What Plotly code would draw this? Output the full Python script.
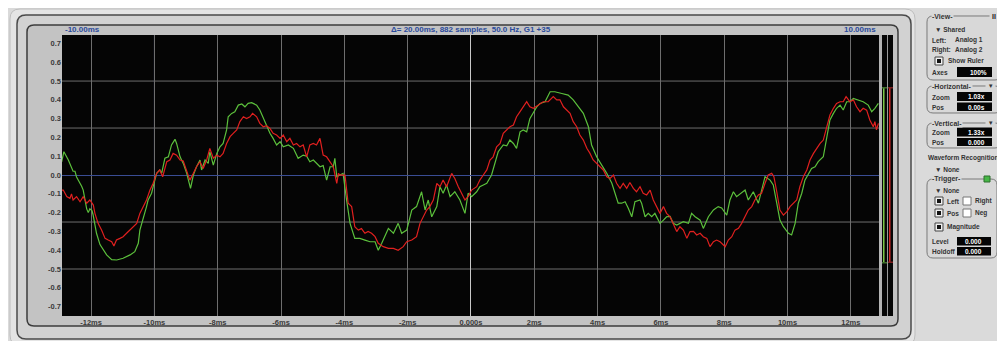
import plotly.graph_objects as go

# the page body keeps its 8px margin, so the figure is 8px smaller than the window
W, H = 997, 333
OFF = 8

# ---- data (time in ms, amplitude) ----
green_t = [-12.93, -12.86, -12.72, -12.57, -12.51, -12.46, -12.30, -12.25, -12.14, -12.09, -12.04, -11.97,
           -11.94, -11.83, -11.72, -11.62, -11.51, -11.35, -11.19, -10.99, -10.77, -10.62, -10.51, -10.46,
           -10.40, -10.35, -10.30, -10.25, -10.20, -10.09, -10.04, -9.98, -9.93, -9.83, -9.77, -9.67,
           -9.56, -9.46, -9.35, -9.30, -9.19, -9.09, -8.98, -8.86, -8.77, -8.67, -8.56, -8.51, -8.40,
           -8.30, -8.25, -8.14, -8.03, -7.93, -7.83, -7.72, -7.67, -7.56, -7.46, -7.35, -7.24, -7.14,
           -7.04, -6.93, -6.77, -6.67, -6.56, -6.46, -6.35, -6.25, -6.14, -6.03, -5.93, -5.77, -5.61,
           -5.46, -5.30, -5.19, -5.09, -4.98, -4.88, -4.77, -4.67, -4.56, -4.45, -4.35, -4.30, -4.24,
           -4.14, -4.04, -3.93, -3.82, -3.67, -3.51, -3.35, -3.19, -3.03, -2.93, -2.82, -2.61, -2.45,
           -2.30, -2.19, -2.03, -1.87, -1.72, -1.56, -1.45, -1.35, -1.24, -1.08, -0.98, -0.88, -0.77,
           -0.66, -0.51, -0.35, -0.19, -0.09, 0.02, 0.18, 0.28, 0.39, 0.50, 0.65, 0.76, 0.86, 1.02,
           1.13, 1.23, 1.34, 1.44, 1.55, 1.65, 1.76, 1.86, 1.97, 2.08, 2.18, 2.34, 2.50, 2.65, 2.87,
           3.07, 3.23, 3.39, 3.55, 3.71, 3.81, 3.97, 4.13, 4.29, 4.45, 4.55, 4.65, 4.76, 4.87, 4.97,
           5.08, 5.18, 5.34, 5.39, 5.50, 5.60, 5.71, 5.81, 5.97, 6.08, 6.18, 6.29, 6.39, 6.50, 6.60,
           6.71, 6.87, 6.97, 7.08, 7.24, 7.34, 7.50, 7.66, 7.81, 7.92, 8.08, 8.18, 8.29, 8.39, 8.55,
           8.66, 8.76, 8.92, 9.08, 9.18, 9.29, 9.45, 9.55, 9.66, 9.76, 9.87, 10.03, 10.13, 10.24,
           10.34, 10.45, 10.55, 10.66, 10.76, 10.87, 10.97, 11.13, 11.24, 11.34, 11.45, 11.55, 11.66,
           11.76, 11.87, 11.97, 12.08, 12.24, 12.39, 12.55, 12.66, 12.76, 12.87]
green_v = [0.07, 0.124, 0.08, 0.02, 0.02, -0.01, -0.06, -0.08, -0.18, -0.20, -0.18, -0.19,
           -0.21, -0.31, -0.37, -0.40, -0.425, -0.45, -0.452, -0.443, -0.425, -0.408, -0.363, -0.293,
           -0.257, -0.24, -0.204, -0.168, -0.133, -0.097, -0.062, -0.027, 0.009, 0.027, 0.01, 0.089,
           0.097, 0.16, 0.19, 0.168, 0.097, 0.062, 0.009, -0.071, 0.0, 0.044, 0.08, 0.027, 0.08,
           0.062, 0.124, 0.053, 0.115, 0.15, 0.168, 0.24, 0.31, 0.328, 0.337, 0.372, 0.378, 0.363,
           0.381, 0.385, 0.372, 0.346, 0.30, 0.266, 0.222, 0.195, 0.16, 0.177, 0.15, 0.16, 0.142,
           0.089, 0.106, 0.10, 0.071, 0.08, 0.062, 0.044, 0.05, -0.027, 0.044, 0.044, 0.089, -0.009,
           0.0, 0.009, -0.133, -0.257, -0.337, -0.337, -0.346, -0.355, -0.355, -0.40, -0.363, -0.284, -0.31,
           -0.257, -0.31, -0.293, -0.186, -0.168, -0.089, -0.186, -0.133, -0.222, -0.168, -0.062, -0.097, -0.053,
           -0.115, -0.089, -0.133, -0.204, -0.097, -0.115, -0.089, -0.062, -0.053, -0.044, 0.0, 0.062, 0.124, 0.16,
           0.155, 0.186, 0.168, 0.142, 0.23, 0.24, 0.23, 0.30, 0.328, 0.363, 0.381, 0.39, 0.443, 0.443, 0.434,
           0.425, 0.40, 0.363, 0.328, 0.257, 0.16, 0.097, 0.053, 0.009, -0.044, -0.097, -0.15, -0.15, -0.142, -0.177,
           -0.222, -0.142, -0.133, -0.15, -0.222, -0.204, -0.222, -0.204, -0.257, -0.24, -0.222, -0.22, -0.257, -0.266, -0.257,
           -0.248, -0.257, -0.204, -0.222, -0.24, -0.284, -0.222, -0.186, -0.168, -0.175, -0.213, -0.133, -0.089, -0.115, -0.097,
           -0.08, -0.133, -0.089, -0.15, -0.089, -0.009, -0.027, -0.053, -0.15, -0.24, -0.275, -0.31, -0.319, -0.257,
           -0.15, -0.097, -0.027, 0.009, 0.035, 0.044, 0.071, 0.097, 0.204, 0.293, 0.328, 0.355, 0.372,
           0.346, 0.39, 0.39, 0.408, 0.40, 0.39, 0.372, 0.337, 0.355, 0.381]

red_t = [-12.93, -12.88, -12.77, -12.67, -12.62, -12.57, -12.46, -12.35, -12.25, -12.14, -12.04, -11.93,
         -11.88, -11.78, -11.67, -11.56, -11.46, -11.35, -11.28, -11.20, -11.09, -10.99, -10.88, -10.77,
         -10.67, -10.56, -10.46, -10.35, -10.25, -10.14, -10.04, -9.93, -9.83, -9.74, -9.61, -9.51,
         -9.41, -9.30, -9.19, -9.09, -8.98, -8.88, -8.77, -8.67, -8.56, -8.46, -8.35, -8.25, -8.14,
         -8.03, -7.93, -7.83, -7.72, -7.61, -7.51, -7.40, -7.30, -7.19, -7.09, -6.98, -6.90, -6.77,
         -6.67, -6.56, -6.46, -6.35, -6.25, -6.14, -6.03, -5.93, -5.82, -5.72, -5.61, -5.51, -5.40,
         -5.30, -5.19, -5.09, -4.98, -4.88, -4.77, -4.67, -4.56, -4.45, -4.35, -4.24, -4.19, -4.14,
         -4.04, -3.98, -3.88, -3.77, -3.67, -3.56, -3.46, -3.35, -3.25, -3.14, -3.03, -2.93, -2.77,
         -2.61, -2.45, -2.30, -2.14, -2.03, -1.87, -1.72, -1.61, -1.51, -1.40, -1.30, -1.19, -1.08,
         -0.98, -0.88, -0.77, -0.61, -0.51, -0.40, -0.29, -0.19, -0.09, 0.02, 0.18, 0.28, 0.39, 0.50,
         0.60, 0.70, 0.81, 0.92, 1.02, 1.13, 1.23, 1.34, 1.44, 1.55, 1.65, 1.76, 1.86, 1.97, 2.13,
         2.28, 2.44, 2.60, 2.71, 2.81, 2.92, 3.02, 3.13, 3.23, 3.34, 3.44, 3.55, 3.66, 3.76, 3.86,
         3.97, 4.08, 4.18, 4.29, 4.39, 4.50, 4.60, 4.71, 4.81, 4.92, 5.02, 5.13, 5.23, 5.34, 5.44,
         5.55, 5.66, 5.76, 5.87, 5.97, 6.08, 6.18, 6.29, 6.39, 6.50, 6.60, 6.71, 6.82, 6.92, 7.03,
         7.13, 7.24, 7.34, 7.45, 7.55, 7.66, 7.76, 7.87, 8.03, 8.13, 8.24, 8.34, 8.45, 8.55, 8.66,
         8.76, 8.87, 8.97, 9.08, 9.18, 9.29, 9.39, 9.50, 9.57, 9.66, 9.76, 9.87, 9.98, 10.08, 10.18,
         10.29, 10.39, 10.50, 10.61, 10.71, 10.82, 10.92, 11.03, 11.13, 11.24, 11.34, 11.45, 11.55,
         11.66, 11.76, 11.85, 11.97, 12.08, 12.18, 12.29, 12.39, 12.50, 12.60, 12.71, 12.76, 12.81, 12.87]
red_v = [-0.08, -0.08, -0.115, -0.124, -0.10, -0.133, -0.115, -0.142, -0.115, -0.15, -0.133, -0.16,
         -0.204, -0.257, -0.293, -0.337, -0.346, -0.355, -0.378, -0.346, -0.337, -0.328, -0.31, -0.293,
         -0.275, -0.257, -0.204, -0.168, -0.133, -0.08, -0.044, 0.009, 0.027, -0.009, 0.071, 0.08,
         0.115, 0.106, 0.08, 0.075, 0.027, -0.027, 0.009, 0.044, 0.071, 0.035, 0.08, 0.142, 0.089,
         0.106, 0.097, 0.115, 0.168, 0.204, 0.222, 0.24, 0.284, 0.31, 0.30, 0.31, 0.328, 0.31,
         0.275, 0.257, 0.262, 0.248, 0.222, 0.213, 0.195, 0.213, 0.177, 0.195, 0.16, 0.168, 0.15,
         0.16, 0.097, 0.16, 0.168, 0.16, 0.195, 0.106, 0.097, 0.071, 0.044, -0.044, 0.009, 0.0,
         0.0, 0.0, -0.15, -0.168, -0.275, -0.293, -0.285, -0.31, -0.30, -0.31, -0.328, -0.363, -0.381,
         -0.39, -0.39, -0.40, -0.381, -0.355, -0.346, -0.328, -0.257, -0.222, -0.186, -0.168, -0.133, -0.044,
         -0.062, -0.027, -0.062, 0.009, -0.018, -0.062, -0.097, -0.133, -0.115, -0.08, -0.062, -0.027, 0.0, 0.027,
         0.08, 0.097, 0.15, 0.168, 0.222, 0.24, 0.257, 0.266, 0.31, 0.337, 0.363, 0.39, 0.363, 0.355, 0.372,
         0.39, 0.39, 0.417, 0.40, 0.40, 0.363, 0.346, 0.328, 0.284, 0.257, 0.213, 0.186, 0.142, 0.115, 0.08,
         0.062, 0.044, 0.027, -0.009, -0.018, 0.0, -0.044, -0.071, -0.044, -0.071, -0.04, -0.071, -0.089, -0.062, -0.097,
         -0.106, -0.08, -0.133, -0.168, -0.204, -0.168, -0.204, -0.222, -0.257, -0.301, -0.275, -0.293, -0.337, -0.301, -0.30,
         -0.319, -0.31, -0.328, -0.337, -0.381, -0.355, -0.346, -0.355, -0.381, -0.346, -0.328, -0.293, -0.284, -0.257, -0.222,
         -0.186, -0.168, -0.133, -0.106, -0.097, -0.044, 0.0, 0.009, -0.009, -0.089, -0.186, -0.213, -0.195, -0.168, -0.15,
         -0.133, -0.062, -0.009, 0.027, 0.08, 0.115, 0.142, 0.168, 0.186, 0.257, 0.319, 0.355, 0.381,
         0.39, 0.39, 0.417, 0.39, 0.40, 0.363, 0.337, 0.355, 0.345, 0.293, 0.257, 0.284, 0.24, 0.275]

x_ticks = [-12, -10, -8, -6, -4, -2, 0, 2, 4, 6, 8, 10, 12]
x_labels = ['-12ms', '-10ms', '-8ms', '-6ms', '-4ms', '-2ms', '0.000s', '2ms', '4ms', '6ms', '8ms', '10ms', '12ms']
y_ticks = [0.7, 0.6, 0.5, 0.4, 0.3, 0.2, 0.1, 0.0, -0.1, -0.2, -0.3, -0.4, -0.5, -0.6, -0.7]
y_labels = ['%.1f' % v for v in y_ticks]
grid_levels = [-0.5, -0.25, 0.25, 0.5]
ruler_marks = [-10, 10]

FONT = 'Liberation Sans, Arial, sans-serif'
PANEL = '#d8d8d8'

# layout helpers take window pixels and turn them into paper fractions
def fx(x):
    return (x - OFF) / W

def fy(y):
    return 1 - (y - OFF) / H

shapes = []
annots = []

def rect(x0, y0, x1, y1, fill, line=None, lw=0, layer='below'):
    shapes.append(dict(type='rect', xref='paper', yref='paper', x0=fx(x0), x1=fx(x1), y0=fy(y1), y1=fy(y0),
                       fillcolor=fill, line=dict(color=line or fill, width=lw), layer=layer))

def rrect(x0, y0, x1, y1, r, fill, line, lw=1, layer='below'):
    p = 'M %f %f L %f %f Q %f %f %f %f L %f %f Q %f %f %f %f L %f %f Q %f %f %f %f L %f %f Q %f %f %f %f Z' % (
        fx(x0 + r), fy(y0), fx(x1 - r), fy(y0), fx(x1), fy(y0), fx(x1), fy(y0 + r),
        fx(x1), fy(y1 - r), fx(x1), fy(y1), fx(x1 - r), fy(y1),
        fx(x0 + r), fy(y1), fx(x0), fy(y1), fx(x0), fy(y1 - r),
        fx(x0), fy(y0 + r), fx(x0), fy(y0), fx(x0 + r), fy(y0))
    shapes.append(dict(type='path', xref='paper', yref='paper', path=p, fillcolor=fill,
                       line=dict(color=line, width=lw), layer=layer))

def text(x, y, s, size=7, color='#333333', anchor='left', bg=None, bold=True):
    if bold:
        s = '<b>' + s + '</b>'
    a = dict(x=fx(x), y=fy(y), xref='paper', yref='paper', text=s, showarrow=False,
             xanchor=anchor, yanchor='middle', font=dict(family=FONT, size=size, color=color))
    if bg:
        a['bgcolor'] = bg
        a['borderpad'] = 0
    annots.append(a)

# bevelled frames
rrect(10, 9, 915, 345, 10, '#e4e4e4', '#bdbdbd', 1)
rrect(17, 15, 911, 339, 9, '#d2d2d2', '#4a4a4a', 1.5)
rrect(27, 25, 898, 326, 7, '#c3c3c3', '#3c3c3c', 1.5)
# black scope area
rect(62, 35, 879, 316, '#050505')

# level meters at the right of the scope
rect(879, 35, 882, 316, '#b4b4b4')
rect(882, 35, 887, 316, '#060606')
rect(887, 35, 888, 316, '#9a9a9a')
rect(888, 35, 893, 316, '#060606')
rect(883, 88, 884.5, 262, '#7cc84a')
rect(889, 88, 890.5, 262, '#d42424')
rect(882, 87, 887, 88.5, '#3e6e2c')
rect(882, 262, 887, 263.5, '#3e6e2c')
rect(888, 87, 893, 88.5, '#7a2020')
rect(888, 261.5, 893, 263, '#7a2020')

# grid lines of the scope
for g in grid_levels:
    shapes.append(dict(type='line', xref='paper', yref='y', x0=fx(62), x1=fx(879), y0=g, y1=g,
                       line=dict(color='#6e6e6e', width=1), layer='below'))
for m in ruler_marks:
    shapes.append(dict(type='line', xref='x', yref='paper', x0=m, x1=m, y0=fy(316), y1=fy(35),
                       line=dict(color='#4f64a8', width=1), layer='below'))

fig = go.Figure()
fig.add_trace(go.Scatter(x=green_t, y=green_v, mode='lines', line=dict(color='#5cc03c', width=1.2),
                         name='Analog 1', hoverinfo='skip'))
fig.add_trace(go.Scatter(x=red_t, y=red_v, mode='lines', line=dict(color='#e0201f', width=1.2),
                         name='Analog 2', hoverinfo='skip'))

# top information bar
text(63, 30, '-10.00ms', 8, '#2a4a9c')
text(471, 30, 'Δ= 20.00ms, 882 samples, 50.0 Hz, G1 +35', 8, '#2a4a9c', 'center')
text(878, 30, '10.00ms', 8, '#2a4a9c', 'right')

# right control panel
rrect(927, 16, 1001, 80, 6, PANEL, '#7a7a7a', 1)
text(931, 16, '-View-', 7, '#333', bg=PANEL)
text(989, 16, ' II ', 7, '#222', bg=PANEL)
text(933, 29, '▼ Shared', 6.5)
text(930, 40, 'Left:', 6.5)
text(953, 40, 'Analog 1', 6.5)
text(930, 50, 'Right:', 6.5)
text(953, 50, 'Analog 2', 6.5)
rect(935, 57, 943, 65, '#f0f0f0', '#444', 1)
rect(937, 59, 941, 63, '#111111')
text(946, 61, 'Show Ruler', 6.5)
text(930, 72, 'Axes', 6.5)
rect(957, 67, 992, 77, '#050505')
text(989, 72, '100%', 6.5, '#ffffff', 'right')

rrect(927, 86, 1001, 113, 6, PANEL, '#7a7a7a', 1)
text(931, 86, '-Horizontal-', 7, '#333', bg=PANEL)
text(985, 86, ' ▼ ', 6, '#333', bg=PANEL)
text(930, 97, 'Zoom', 6.5)
rect(957, 92, 992, 101, '#050505')
text(987, 96.5, '1.03x', 6.5, '#ffffff', 'right')
text(930, 107, 'Pos', 6.5)
rect(957, 102.5, 992, 111, '#050505')
text(987, 107, '0.00s', 6.5, '#ffffff', 'right')

rrect(927, 123, 1001, 148, 6, PANEL, '#7a7a7a', 1)
text(931, 123, '-Vertical-', 7, '#333', bg=PANEL)
text(985, 123, ' ▼ ', 6, '#333', bg=PANEL)
text(930, 132, 'Zoom', 6.5)
rect(957, 127.5, 992, 136.5, '#050505')
text(987, 132, '1.33x', 6.5, '#ffffff', 'right')
text(930, 142, 'Pos', 6.5)
rect(957, 138, 992, 146, '#050505')
text(987, 142, '0.000', 6.5, '#ffffff', 'right')

text(926, 158, 'Waveform Recognition', 6.5)
text(933, 169, '▼ None', 6.5)

rrect(927, 179, 997, 258, 6, PANEL, '#7a7a7a', 1)
text(931, 179, '-Trigger-', 7, '#333', bg=PANEL)
rect(984, 176, 990, 182, '#46b646', '#2c6e2c', 1)
text(933, 190, '▼ None', 6.5)
for cy, lab, lab2 in [(201, 'Left', 'Right'), (213, 'Pos', 'Neg')]:
    rect(935, cy - 4, 943, cy + 4, '#f0f0f0', '#444', 1)
    rect(937, cy - 2, 941, cy + 2, '#111111')
    text(945, cy, lab, 6.5)
    rect(963, cy - 4, 971, cy + 4, '#ffffff', '#777', 1)
    text(973, cy, lab2, 6.5)
rect(935, 223, 943, 231, '#f0f0f0', '#444', 1)
rect(937, 225, 941, 229, '#111111')
text(945, 227, 'Magnitude', 6.5)
text(930, 241, 'Level', 6.5)
rect(957, 237, 991, 245.5, '#050505')
text(984, 241, '0.000', 6.5, '#ffffff', 'right')
text(930, 251, 'Holdoff', 6.5)
rect(957, 247, 991, 255.5, '#050505')
text(984, 251, '0.000', 6.5, '#ffffff', 'right')

fig.update_layout(
    width=W, height=H, autosize=False,
    margin=dict(l=0, r=0, t=0, b=0),
    paper_bgcolor='#dadada', plot_bgcolor='#050505',
    showlegend=False,
    shapes=shapes, annotations=annots,
    xaxis=dict(domain=[fx(62), fx(879)], range=[-12.92, 12.89], tickvals=x_ticks, ticktext=x_labels,
               showgrid=True, gridcolor='#6e6e6e', gridwidth=1, zeroline=True, zerolinecolor='#c8c8c8',
               zerolinewidth=1, ticks='', showline=False, fixedrange=True,
               tickfont=dict(family=FONT, size=7.5, color='#3a3a3a', weight='bold')),
    yaxis=dict(domain=[fy(316), fy(35)], range=[-0.75, 0.745], tickvals=y_ticks, ticktext=y_labels,
               showgrid=False, zeroline=True, zerolinecolor='#3a4d94', zerolinewidth=1.2, ticks='',
               showline=False, fixedrange=True,
               tickfont=dict(family=FONT, size=7.5, color='#3a3a3a', weight='bold')),
)

fig.write_html('out.html')
